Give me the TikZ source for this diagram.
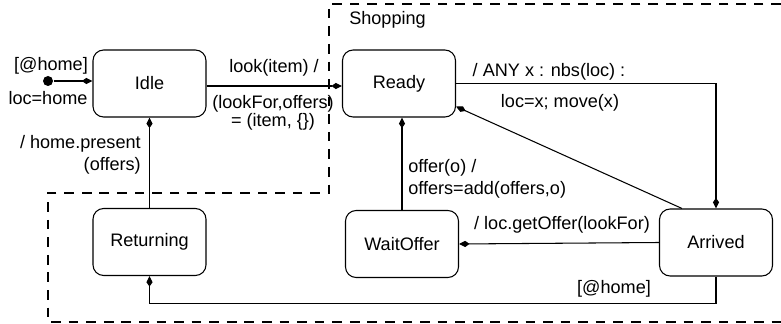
\documentclass[tikz,border=0pt]{standalone}
\usepackage{fontspec}
\setmainfont{Liberation Sans}
\usetikzlibrary{arrows.meta}
\begin{document}
\begin{tikzpicture}[x=0.02cm, y=-0.02cm, line width=0.6pt, every node/.style={font=\fontsize{10.3}{12}\selectfont, inner sep=1pt}, state/.style={draw, rounded corners=6pt, minimum width=2.26cm, minimum height=1.34cm}, >={Kite[length=6pt, width=3.5pt, inset=2.5pt]}]
        \useasboundingbox (0,0) rectangle (781,324);
        % shopping region
        \draw[line width=0.65pt, dash pattern=on 5.5pt off 4.5pt] (781,4) -- (329,4) -- (329,193) -- (48,193) -- (48,322) -- (781,322);
        \node[anchor=west] (shop) at (347,20) {Shopping};
        \node[state] (idle) at (149.5,83.5) {Idle};
        \node[state] (ready) at (399,83.5) {Ready};
        \node[state] (ret) at (149.5,242) {Returning};
        \node[state] (wait) at (402,244) {WaitOffer};
        \node[state] (arr) at (716,242.5) {Arrived};
        \node[circle, fill, inner sep=0pt, minimum size=0.2cm] (start) at (48,81) {};
        \draw[->] (start) -- (start -| idle.west);
        \node (l1) at (51,66) {[@home]};
        \node (l2) at (48,98) {loc=home};
        \draw[->] ([yshift=-2.5*0.02cm]idle.east) -- ([yshift=-2.5*0.02cm]ready.west);
        \node (l3) at (274,68) {look(item) /};
        \node (l4) at (273,104) {(lookFor,offers)};
        \node (l5) at (273,122) {= (item, \{\})};
        \draw[->] (ready.east) -| (arr.north);
        \node (l6) at (549,72) {/ ANY x : nbs(loc) :};
        \node (l7) at (560,103) {loc=x; move(x)};
        \draw[->] (arr.135) -- (ready.-22);
        \draw[->] (wait.north) -- (wait.north |- ready.south);
        \node[anchor=west] (l8) at (406,168) {offer(o) /};
        \node[anchor=west] (l9) at (406,190) {offers=add(offers,o)};
        \draw[->] (arr.west) -- (wait.east);
        \node (l10) at (562,225) {/ loc.getOffer(lookFor)};
        \draw[->] (arr.south) -- ++(0,27) -| (ret.south);
        \node (l11) at (614,289) {[@home]};
        \draw[->] (ret) -- (idle);
        \node[anchor=east] (l12) at (143,144) {/ home.present};
        \node[anchor=east] (l13) at (143,166) {(offers)};
    \end{tikzpicture}
\end{document}
